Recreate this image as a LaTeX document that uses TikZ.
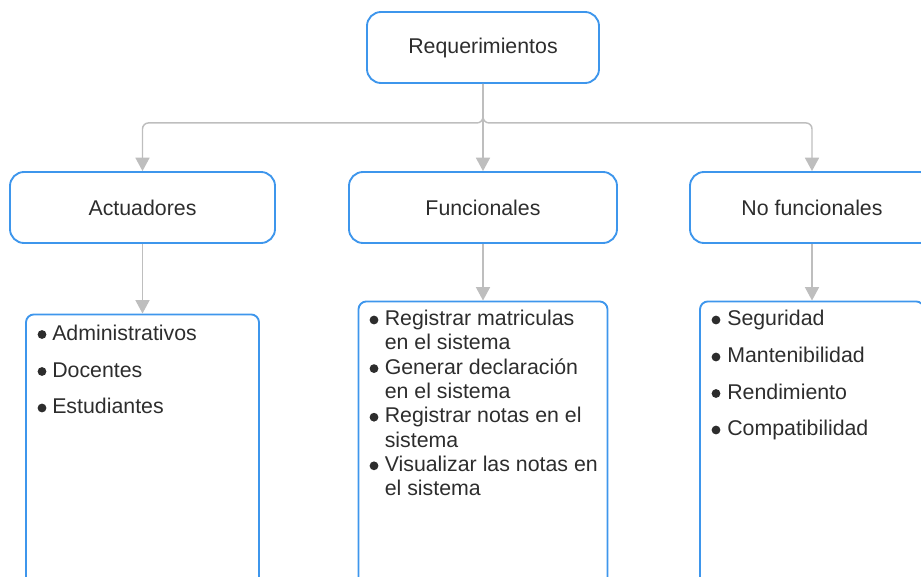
\documentclass[tikz,border=0pt]{standalone}
\usepackage{fontspec}
\setmainfont{Liberation Sans}
\usetikzlibrary{arrows.meta}
\definecolor{boxblue}{RGB}{62,150,236}
\definecolor{conngray}{RGB}{190,190,190}
\definecolor{txt}{RGB}{45,45,45}
\begin{document}
\begin{tikzpicture}[x=0.75pt,y=-0.75pt,
  box/.style={draw=boxblue,line width=1.4pt,rounded corners=10.5pt,minimum height=53.25pt,inner sep=0pt,
    font=\fontsize{16}{18.2}\selectfont,text=txt},
  listbox/.style={draw=boxblue,line width=1.4pt,rounded corners=6pt,anchor=north,inner sep=0pt,minimum height=240pt},
  conn/.style={draw=conngray,line width=1.1pt,-{Triangle[width=10.5pt,length=10pt]}},
  item/.style={anchor=base west,inner sep=0pt,font=\fontsize{16}{18.2}\selectfont,text=txt},
  dot/.style={circle,fill=txt,inner sep=0pt,minimum size=6.6pt}]
\useasboundingbox (0,0) rectangle (921,576);
\clip (0,0) rectangle (921,576);
% top level boxes
\node[box,minimum width=174pt] (req) at (483,47.5) {Requerimientos};
\node[box,minimum width=198.75pt] (act) at (142.5,207.5) {Actuadores};
\node[box,minimum width=201pt] (fun) at (483,207.5) {Funcionales};
\node[box,minimum width=183pt] (nof) at (812,207.5) {No funcionales};
% list boxes
\node[listbox,minimum width=174.75pt] (lact) at (142.5,313.5) {};
\node[listbox,minimum width=186.75pt] (lfun) at (483,300.5) {};
\node[listbox,minimum width=168pt] (lnof) at (812,300.5) {};
% connectors
\draw[conn] (req.south) -- (fun.north);
\draw[conn,rounded corners=4.5pt] (req.south) -- ++(0,39) -| (act.north);
\draw[conn,rounded corners=4.5pt] (req.south) -- ++(0,39) -| (nof.north);
\draw[conn] (act.south) -- (lact.north);
\draw[conn] (fun.south) -- (lfun.north);
\draw[conn] (nof.south) -- (lnof.north);
% Actuadores list
\node[dot] (b1) at (42,334.5) {};
\node[item] (a1) at (52,340) {Administrativos};
\node[dot] (b2) at (42,371.5) {};
\node[item] (a2) at (52,377) {Docentes};
\node[dot] (b3) at (42,408) {};
\node[item] (a3) at (52,413.5) {Estudiantes};
% Funcionales list
\node[dot] (b4) at (374,320) {};
\node[item] (f1) at (384.5,325.5) {Registrar matriculas};
\node[item] (f1b) at (384.5,349.8) {en el sistema};
\node[dot] (b5) at (374,368.6) {};
\node[item] (f2) at (384.5,374.1) {Generar declaración};
\node[item] (f2b) at (384.5,398.4) {en el sistema};
\node[dot] (b6) at (374,417.2) {};
\node[item] (f3) at (384.5,422.7) {Registrar notas en el};
\node[item] (f3b) at (384.5,447) {sistema};
\node[dot] (b7) at (374,465.8) {};
\node[item] (f4) at (384.5,471.3) {Visualizar las notas en};
\node[item] (f4b) at (384.5,495.6) {el sistema};
% No funcionales list
\node[dot] (b8) at (716,320) {};
\node[item] (n1) at (727,325.5) {Seguridad};
\node[dot] (b9) at (716,357) {};
\node[item] (n2) at (727,362.5) {Mantenibilidad};
\node[dot] (b10) at (716,393.5) {};
\node[item] (n3) at (727,399) {Rendimiento};
\node[dot] (b11) at (716,430) {};
\node[item] (n4) at (727,435.5) {Compatibilidad};
\end{tikzpicture}
\end{document}
